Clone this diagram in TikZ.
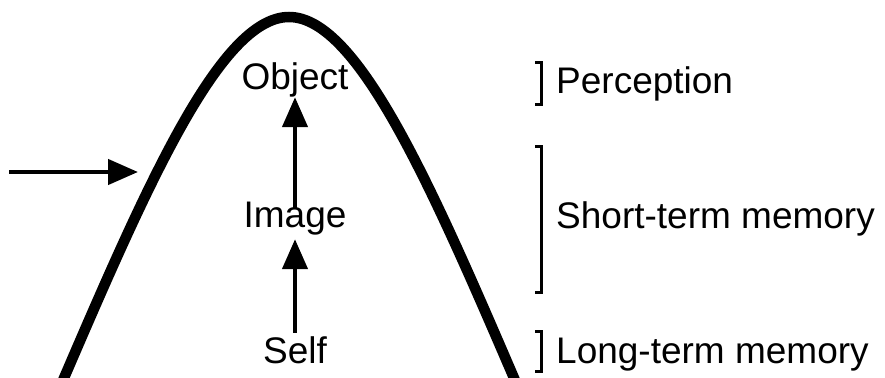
\documentclass[tikz,border=0pt]{standalone}
\usepackage{fontspec}
\setmainfont{Liberation Sans}
\usetikzlibrary{arrows.meta}

\begin{document}
\begin{tikzpicture}[
  x=1pt,y=-1pt,
  stage/.style={font=\fontsize{37}{40}\selectfont,anchor=base,
    text height=26pt,text depth=8pt,inner xsep=2pt,inner ysep=4pt},
  level/.style={font=\fontsize{37}{40}\selectfont,anchor=base west,inner sep=0pt},
  flow/.style={-{Triangle[length=30pt,width=25pt]},line width=4.5pt},
  brace/.style={line width=3pt}
]
  \useasboundingbox (0,0) rectangle (885,377);
  \clip (0,0) rectangle (885,377);
  % the hill
  \draw[line width=10.5pt] (58,392) .. controls (144,192) and (219,17) .. (289,17)
    .. controls (359,17) and (434,192) .. (520,392);
  % stages inside
  \node[stage] (object) at (295,90) {Object};
  \node[stage] (image) at (295,227) {Image};
  \node[stage] (self) at (295,363) {Self};
  \draw[flow] (self.north) -- (image.south);
  \draw[flow,shorten <=-12pt,shorten >=-5pt] (image.north) -- (object.south);
  % input from outside
  \coordinate (src) at (9,172);
  \coordinate (entry) at (138,172);
  \draw[flow] (src) -- (entry);
  % memory levels
  \draw[brace] (535,63) -- (541,63) -- (541,105) -- (535,105);
  \draw[brace] (535,146) -- (541,146) -- (541,292) -- (535,292);
  \draw[brace] (535,331) -- (541,331) -- (541,371) -- (535,371);
  \node[level] (perc) at (556,94) {Perception};
  \node[level] (short) at (556,228) {Short-term memory};
  \node[level] (long) at (556,363) {Long-term memory};
\end{tikzpicture}
\end{document}
